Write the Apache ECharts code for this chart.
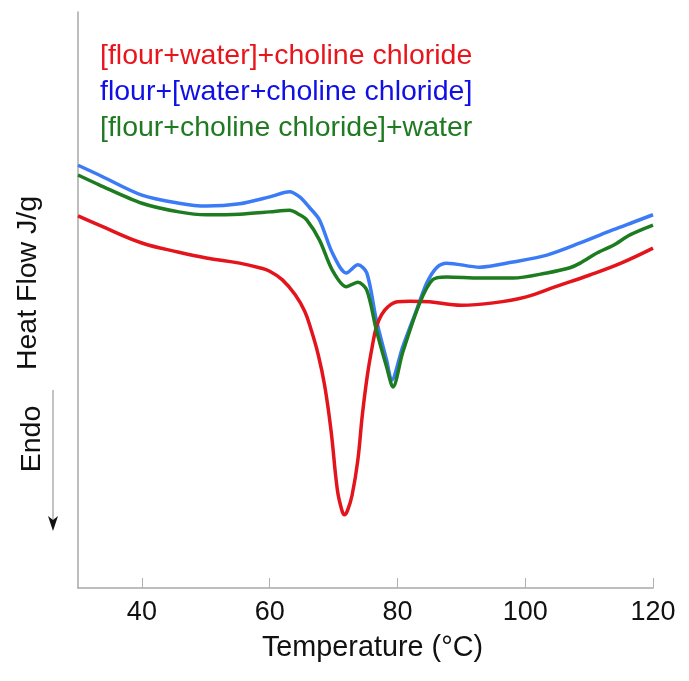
<!DOCTYPE html>
<html>
<head>
<meta charset="utf-8">
<script src="https://cdn.jsdelivr.net/npm/echarts@6/dist/echarts.min.js"></script>
<style>html,body{margin:0;padding:0;background:#fff}#c{width:689px;height:681px}</style>
</head>
<body>
<div id="c"></div>
<script>
// Series names
var seriesNames = ['[flour+water]+choline chloride', 'flour+[water+choline chloride]', '[flour+choline chloride]+water'];
// x tick labels (Temperature, °C)
var xTicks = [40, 60, 80, 100, 120];

// Red: [flour+water]+choline chloride  (temperature, heat flow arbitrary units)
var redT = [30, 33.3, 40, 45.8, 50.1, 55.3, 58.4, 60, 62, 64, 65.5, 66.5, 67.6, 68.6, 69.6, 70.6, 71.3, 71.7, 72.2, 72.9, 73.8, 74.5, 75.3, 76.1, 76.7, 77.5, 78.5, 80, 82, 85, 90, 95, 100, 105, 110, 115, 120];
var redV = [6.46, 6.30, 5.99, 5.83, 5.73, 5.64, 5.56, 5.50, 5.35, 5.09, 4.80, 4.48, 4.05, 3.52, 2.74, 1.70, 1.35, 1.27, 1.35, 1.61, 2.22, 3.00, 3.70, 4.22, 4.53, 4.74, 4.88, 4.97, 4.98, 4.97, 4.91, 4.95, 5.05, 5.24, 5.43, 5.64, 5.90];

// Blue: flour+[water+choline chloride]
var blueT = [30, 33.3, 40, 45.8, 50.1, 55.3, 60, 63.1, 64.7, 66.2, 67.8, 69.8, 72.0, 73.8, 75.2, 76.7, 78.3, 79.1, 80.8, 83.0, 84.6, 86.2, 87.7, 92.9, 98.1, 103.4, 108.6, 113.8, 116.9, 120];
var blueV = [7.34, 7.17, 6.82, 6.68, 6.63, 6.67, 6.79, 6.88, 6.79, 6.61, 6.39, 5.82, 5.47, 5.61, 5.47, 4.65, 3.96, 3.61, 4.18, 4.83, 5.30, 5.57, 5.64, 5.57, 5.66, 5.78, 5.99, 6.22, 6.35, 6.48];

// Green: [flour+choline chloride]+water
var greenT = [30, 33.3, 40, 45.8, 50.1, 55.3, 60, 63.1, 64.7, 65.8, 67.8, 69.8, 72.0, 73.8, 75.2, 76.7, 78.3, 79.3, 80.8, 83.5, 85.5, 87.7, 92.9, 98.1, 103.4, 107.0, 108.6, 111.3, 113.8, 116.4, 120];
var greenV = [7.17, 7.00, 6.68, 6.53, 6.48, 6.49, 6.53, 6.56, 6.48, 6.39, 6.04, 5.52, 5.23, 5.31, 5.17, 4.48, 3.84, 3.49, 4.08, 4.95, 5.35, 5.40, 5.38, 5.38, 5.47, 5.56, 5.64, 5.82, 5.95, 6.13, 6.30];

function pairs(t, v) { return t.map(function (x, i) { return [x, v[i]]; }); }

var lineColors = ['#e3141b', '#3b7cf6', '#1d7c1f'];
var textColors = ['#e8161c', '#1010e6', '#207a22'];
var FONT = '"Liberation Sans", Arial, sans-serif';

var chart = echarts.init(document.getElementById('c'), null, {renderer: 'canvas'});
chart.setOption({
  animation: false,
  backgroundColor: '#ffffff',
  grid: {left: 78, right: 36, top: 12, bottom: 93, containLabel: false},
  legend: {
    orient: 'vertical', left: 90, top: 37, icon: 'none', itemWidth: 0, itemHeight: 28, itemGap: 7,
    selectedMode: false,
    textStyle: {fontFamily: FONT, fontSize: 28.5},
    data: seriesNames.map(function (n, i) { return {name: n, textStyle: {color: textColors[i]}}; })
  },
  xAxis: {
    type: 'value', min: 30, max: 120,
    name: 'Temperature (°C)', nameLocation: 'middle', nameGap: 46,
    nameTextStyle: {fontFamily: FONT, fontSize: 28.8, color: '#111', padding: [0, 0, 0, 14]},
    axisLine: {show: true, lineStyle: {color: '#a8a8a8', width: 1.5}},
    axisTick: {show: true, inside: true, length: 10, customValues: xTicks, lineStyle: {color: '#b0b0b0', width: 1}},
    axisLabel: {customValues: xTicks, fontFamily: FONT, fontSize: 27, color: '#111', margin: 11},
    splitLine: {show: false}
  },
  yAxis: {
    type: 'value', min: 0, max: 10,
    axisLine: {show: true, onZero: false, lineStyle: {color: '#a8a8a8', width: 1.5}},
    axisTick: {show: false}, axisLabel: {show: false}, splitLine: {show: false}
  },
  series: [
    {name: seriesNames[0], type: 'line', data: pairs(redT, redV), smooth: 0.4, showSymbol: false, lineStyle: {color: lineColors[0], width: 3.5}, itemStyle: {color: lineColors[0]}, z: 3},
    {name: seriesNames[1], type: 'line', data: pairs(blueT, blueV), smooth: 0.3, showSymbol: false, lineStyle: {color: lineColors[1], width: 3.5}, itemStyle: {color: lineColors[1]}, z: 2},
    {name: seriesNames[2], type: 'line', data: pairs(greenT, greenV), smooth: 0.3, showSymbol: false, lineStyle: {color: lineColors[2], width: 3.5}, itemStyle: {color: lineColors[2]}, z: 4}
  ],
  graphic: [
    {type: 'text', x: 28, y: 283, rotation: Math.PI / 2,
     style: {text: 'Heat Flow J/g', fontFamily: FONT, fontSize: 28.5, fill: '#111', align: 'center', verticalAlign: 'middle'}},
    {type: 'text', x: 32, y: 439, rotation: Math.PI / 2,
     style: {text: 'Endo', fontFamily: FONT, fontSize: 28.5, fill: '#111', align: 'center', verticalAlign: 'middle'}},
    {type: 'line', shape: {x1: 53, y1: 390, x2: 53, y2: 522}, style: {stroke: '#9a9a9a', lineWidth: 1.2}},
    {type: 'polygon', shape: {points: [[48, 516], [53, 531], [58, 516], [53, 520]]}, style: {fill: '#111'}}
  ]
});
</script>
</body>
</html>
